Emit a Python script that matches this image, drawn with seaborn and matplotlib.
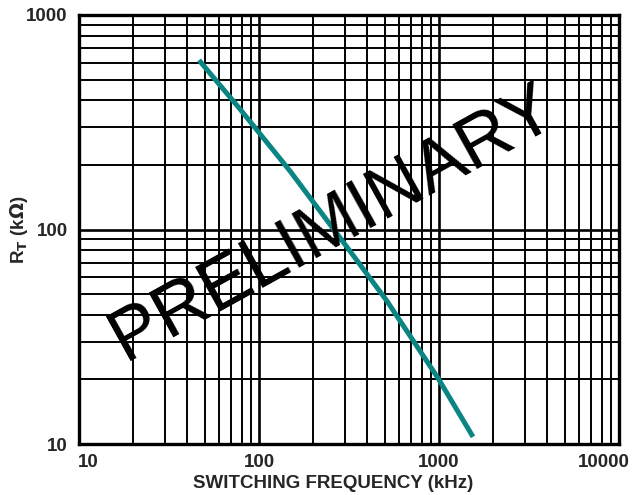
import numpy as np
import pandas as pd
import matplotlib
matplotlib.use('Agg')
import matplotlib.pyplot as plt
import matplotlib.ticker as mticker
import matplotlib.transforms as mtransforms
import seaborn as sns

# R_T vs switching frequency
freq_khz = [46.4, 78.5, 149, 320, 514, 987, 1545]
rt_kohm = [616, 364, 187, 79.4, 46.4, 20.3, 10.8]

x_ticks = [10, 100, 1000, 10000]
x_labels = ['10', '100', '1000', '10000']
y_ticks = [10, 100, 1000]
y_labels = ['10', '100', '1000']

sns.set_style('white')
plt.rcParams['font.family'] = ['Liberation Sans', 'DejaVu Sans']

df = pd.DataFrame({'freq': freq_khz, 'rt': rt_kohm})

fig = plt.figure(figsize=(6.39, 4.95), dpi=100)
ax = fig.add_axes([0.1236, 0.103, 0.8451, 0.8667])

ax.set_xscale('log')
ax.set_yscale('log')
ax.set_xlim(10, 10000)
ax.set_ylim(10, 1000)

# grid: every major and minor decade line, black
ax.xaxis.set_major_locator(mticker.FixedLocator(x_ticks))
ax.yaxis.set_major_locator(mticker.FixedLocator(y_ticks))
ax.xaxis.set_minor_locator(mticker.LogLocator(base=10, subs=np.arange(2, 10)))
ax.yaxis.set_minor_locator(mticker.LogLocator(base=10, subs=np.arange(2, 10)))
ax.xaxis.set_minor_formatter(mticker.NullFormatter())
ax.yaxis.set_minor_formatter(mticker.NullFormatter())
ax.grid(True, which='major', color='black', linewidth=1.9)
ax.grid(True, which='minor', color='black', linewidth=1.4)
ax.set_axisbelow(True)

sns.lineplot(data=df, x='freq', y='rt', ax=ax, color='#0b8584', linewidth=3.6,
             solid_capstyle='butt', solid_joinstyle='round', zorder=3)

ax.set_xticks(x_ticks, x_labels, fontsize=13.5, fontweight='bold')
ax.set_yticks(y_ticks, y_labels, fontsize=13.5, fontweight='bold')
ax.tick_params(which='both', length=0)
ax.tick_params(axis='x', pad=7)
ax.tick_params(axis='y', pad=8)

# shift the end labels on x so they sit inside the figure like the original
xl = ax.get_xticklabels()
xl[0].set_transform(xl[0].get_transform() + mtransforms.ScaledTranslation(0.09, 0, fig.dpi_scale_trans))
xl[-1].set_transform(xl[-1].get_transform() + mtransforms.ScaledTranslation(-0.15, 0, fig.dpi_scale_trans))

for s in ax.spines.values():
    s.set_color('black')
    s.set_linewidth(2.4)

ax.set_xlabel('SWITCHING FREQUENCY (kHz)', fontsize=13.5, fontweight='bold')
ax.set_ylabel(r'R$_\mathbf{T}$ (k$\mathbf{\Omega}$)', fontsize=13.5, fontweight='bold')
ax.xaxis.set_label_coords(0.47, -0.072)
ax.yaxis.set_label_coords(-0.09, 0.5)

ax.text(0.47, 0.515, 'PRELIMINARY', transform=ax.transAxes, fontsize=53,
        rotation=29, ha='center', va='center', color='black', zorder=4,
        rotation_mode='anchor')

fig.savefig('out.png', dpi=100)
